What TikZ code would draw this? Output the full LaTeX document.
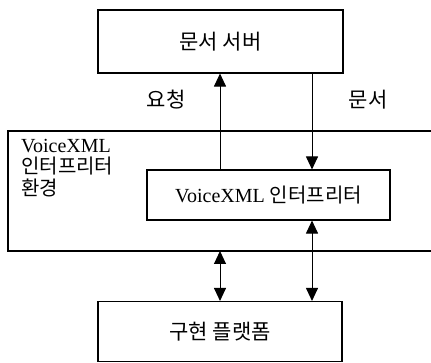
\documentclass[tikz,border=0pt]{standalone}
\usepackage{fontspec}
\setmainfont{Liberation Serif}
\newfontfamily\kr{Noto Sans CJK KR}
\usetikzlibrary{arrows.meta}
\begin{document}
\begin{tikzpicture}[x=1pt,y=-1pt,
  box/.style={draw,line width=1.1pt,inner sep=0pt},
  lab/.style={font=\kr\fontsize{21}{24}\selectfont},
  arr/.style={line width=1pt,-{Triangle[length=13pt,width=12pt]}},
  darr/.style={line width=1pt,{Triangle[length=13pt,width=12pt]}-{Triangle[length=13pt,width=12pt]}}]
\useasboundingbox (0,0) rectangle (431,363);
% outer environment (open on the right)
\draw[line width=1.1pt] (431,131) -- (8,131) -- (8,251) -- (431,251);
\coordinate (envbot) at (220,251);
\node[anchor=north west,align=left,inner sep=0pt,font=\fontsize{20}{21.5}\selectfont] (envlab) at (21,139) {VoiceXML\\{\kr 인터프리터}\\{\kr 환경}};
% boxes
\node[box,minimum width=245pt,minimum height=63pt,lab] (server) at (220.5,41.5) {문서 서버};
\node[box,minimum width=243pt,minimum height=50pt,font=\fontsize{20}{24}\selectfont] (interp) at (268.5,195) {VoiceXML {\kr 인터프리터}};
\node[box,minimum width=244pt,minimum height=60pt,lab] (platform) at (220,331.5) {구현 플랫폼};
% arrows
\draw[arr] (interp.north -| 220,0) -- (server.south -| 220,0);
\draw[arr] (server.south -| 312,0) -- (interp.north -| 312,0);
\draw[darr] (envbot) -- (platform.north -| 220,0);
\draw[darr] (interp.south -| 312,0) -- (platform.north -| 312,0);
% labels
\node[lab] (req) at (166,100) {요청};
\node[lab] (doc) at (368,100) {문서};
\end{tikzpicture}
\end{document}
